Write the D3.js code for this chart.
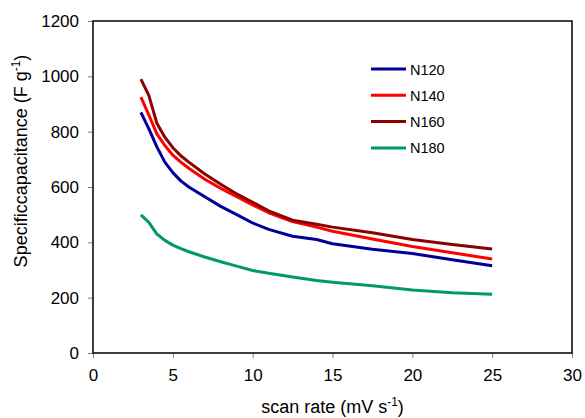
<!DOCTYPE html>
<html><head><meta charset="utf-8">
<script src="https://cdn.jsdelivr.net/npm/d3@7/dist/d3.min.js"></script>
<style>body{margin:0;background:#fff}svg{display:block;font-family:"Liberation Sans",Arial,sans-serif}</style>
</head><body><svg id="c" width="585" height="418"></svg>
<script>
const scanRate = [3,3.5,4,4.5,5,5.5,6,7,8,9,10,11,12.5,14,15,17.5,20,22.5,25];
const N120 = [870,810,745,690,652,622,600,565,530,500,470,447,422,410,395,375,360,337,315];
const N140 = [925,860,792,750,715,690,668,628,595,565,535,507,475,455,440,412,385,362,340];
const N160 = [990,930,830,780,742,713,690,647,610,575,545,514,480,465,455,435,410,392,376];
const N180 = [499,472,430,407,390,377,366,347,330,314,298,288,275,262,256,243,228,218,212];
const seriesNames = ["N120","N140","N160","N180"];
const seriesColors = ["#000099","#ff0000","#8b0000","#00996a"];
const xTicks = [0,5,10,15,20,25,30];
const yTicks = [0,200,400,600,800,1000,1200];

const svg = d3.select("#c");
const L=93,R=572,T=21,B=353;
const x = d3.scaleLinear().domain([0,30]).range([L,R]);
const y = d3.scaleLinear().domain([0,1200]).range([B,T]);

const xa = svg.append("g").attr("transform",`translate(0,${B})`)
  .call(d3.axisBottom(x).tickValues(xTicks).tickFormat(d3.format("d")).tickSize(5).tickPadding(6));
const ya = svg.append("g").attr("transform",`translate(${L},0)`)
  .call(d3.axisLeft(y).tickValues(yTicks).tickFormat(d3.format("d")).tickSize(5).tickPadding(9));
[xa,ya].forEach(a=>{a.select(".domain").remove();
  a.selectAll("line").attr("stroke","#808080");
  a.selectAll("text").attr("font-size",17).attr("fill","#000").attr("font-family","Liberation Sans, Arial, sans-serif");});
xa.selectAll("text").attr("dy","1em");

svg.append("rect").attr("x",L).attr("y",T).attr("width",R-L).attr("height",B-T)
  .attr("fill","none").attr("stroke","#000").attr("stroke-width",1.5);

const data = [N120,N140,N160,N180];
const line = d3.line().x((d,i)=>x(scanRate[i])).y(d=>y(d));
data.forEach((s,k)=>{
  svg.append("path").datum(s).attr("d",line).attr("fill","none")
    .attr("stroke",seriesColors[k]).attr("stroke-width",3).attr("stroke-linejoin","round");
});

const lg = svg.append("g");
seriesNames.forEach((n,k)=>{
  const yy = 69 + k*26.3;
  lg.append("line").attr("x1",371).attr("x2",406).attr("y1",yy).attr("y2",yy)
    .attr("stroke",seriesColors[k]).attr("stroke-width",3);
  lg.append("text").attr("x",410).attr("y",yy+5.5).attr("font-size",14.5).text(n);
});

const xt = svg.append("text").attr("x",(L+R)/2).attr("y",413).attr("text-anchor","middle").attr("font-size",18);
xt.append("tspan").text("scan rate (mV s");
xt.append("tspan").attr("dy",-7).attr("font-size",12).text("-1");
xt.append("tspan").attr("dy",7).text(")");

const yt = svg.append("text").attr("transform","translate(27,161) rotate(-90)").attr("text-anchor","middle").attr("font-size",18);
yt.append("tspan").text("Specificcapacitance (F g");
yt.append("tspan").attr("dy",-7).attr("font-size",12).text("-1");
yt.append("tspan").attr("dy",7).text(")");
</script></body></html>
